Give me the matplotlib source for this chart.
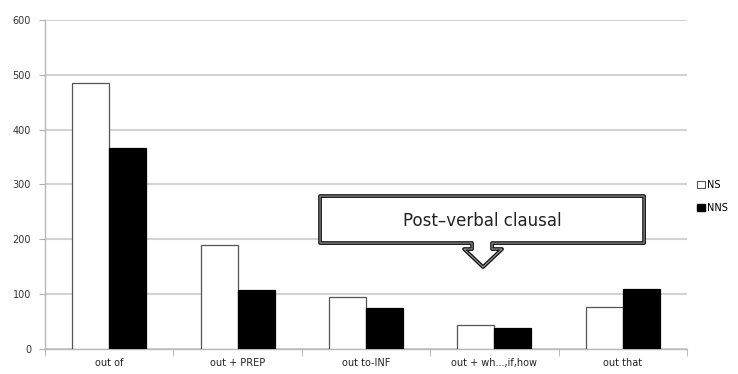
import matplotlib.pyplot as plt
import numpy as np
from matplotlib.patches import Polygon, Patch

categories = ["out of", "out + PREP", "out to-INF", "out + wh...,if,how", "out that"]
ns_counts = [485, 190, 95, 43, 76]
nns_counts = [367, 107, 74, 38, 108]
y_ticks = [0, 100, 200, 300, 400, 500, 600]

plt.rcParams['font.family'] = ['DejaVu Sans']

fig = plt.figure(figsize=(7.38, 3.74), dpi=100)
ax = fig.add_axes([0.061, 0.068, 0.870, 0.8785])

x = np.arange(len(categories))
w = 0.288
ax.bar(x - w / 2, ns_counts, w, color='white', edgecolor='#555555', linewidth=0.9, zorder=3)
ax.bar(x + w / 2, nns_counts, w, color='black', edgecolor='black', linewidth=0.9, zorder=3)

ax.set_xlim(-0.5, len(categories) - 0.5)
ax.set_ylim(0, 600)
ax.set_yticks(y_ticks)
ax.tick_params(axis='y', labelsize=7, length=4, color='#b0b0b0', pad=6, labelcolor='#333333')
ax.set_xticks(x)
ax.set_xticklabels(categories)
ax.tick_params(axis='x', which='major', length=0, labelsize=7, pad=7, labelcolor='#222222')
# tick marks between categories
ax.set_xticks(np.arange(-0.5, len(categories)), minor=True)
ax.tick_params(axis='x', which='minor', length=5, color='#b0b0b0')

ax.yaxis.grid(True, color='#d3d3d3', linewidth=1.5, zorder=0)
for side in ['top', 'right']:
    ax.spines[side].set_visible(False)
for side in ['left', 'bottom']:
    ax.spines[side].set_color('#b8b8b8')
    ax.spines[side].set_linewidth(1.0)

# callout box with a downward arrow
def px(xp, yp):
    return ((xp - 45) / 642.0, (348.5 - yp) / 328.5)

outline = [px(320, 196), px(644, 196), px(644, 243), px(492, 243), px(492, 249),
           px(502, 249), px(483, 267), px(464, 249), px(472, 249), px(472, 243),
           px(320, 243)]
ax.add_patch(Polygon(outline, closed=True, transform=ax.transAxes, facecolor='white',
                     edgecolor='#111111', linewidth=2.7, zorder=5, joinstyle='round'))
ax.add_patch(Polygon(outline, closed=True, transform=ax.transAxes, facecolor='none',
                     edgecolor='#9a9a9a', linewidth=0.8, zorder=6, joinstyle='round'))
cx, cy = px(482, 221)
ax.text(cx, cy, "Post\u2013verbal clausal", transform=ax.transAxes, fontsize=12,
        ha='center', va='center', color='#222222', zorder=7)

handles = [Patch(facecolor='white', edgecolor='#555555', linewidth=0.8, label='NS'),
           Patch(facecolor='black', edgecolor='black', label='NNS')]
fig.legend(handles=handles, loc='center left', bbox_to_anchor=(0.945, 0.475),
           frameon=False, fontsize=7, handlelength=0.75, handleheight=0.75,
           handletextpad=0.2, labelspacing=1.4, borderaxespad=0, borderpad=0)

fig.savefig('out.png', dpi=100)
